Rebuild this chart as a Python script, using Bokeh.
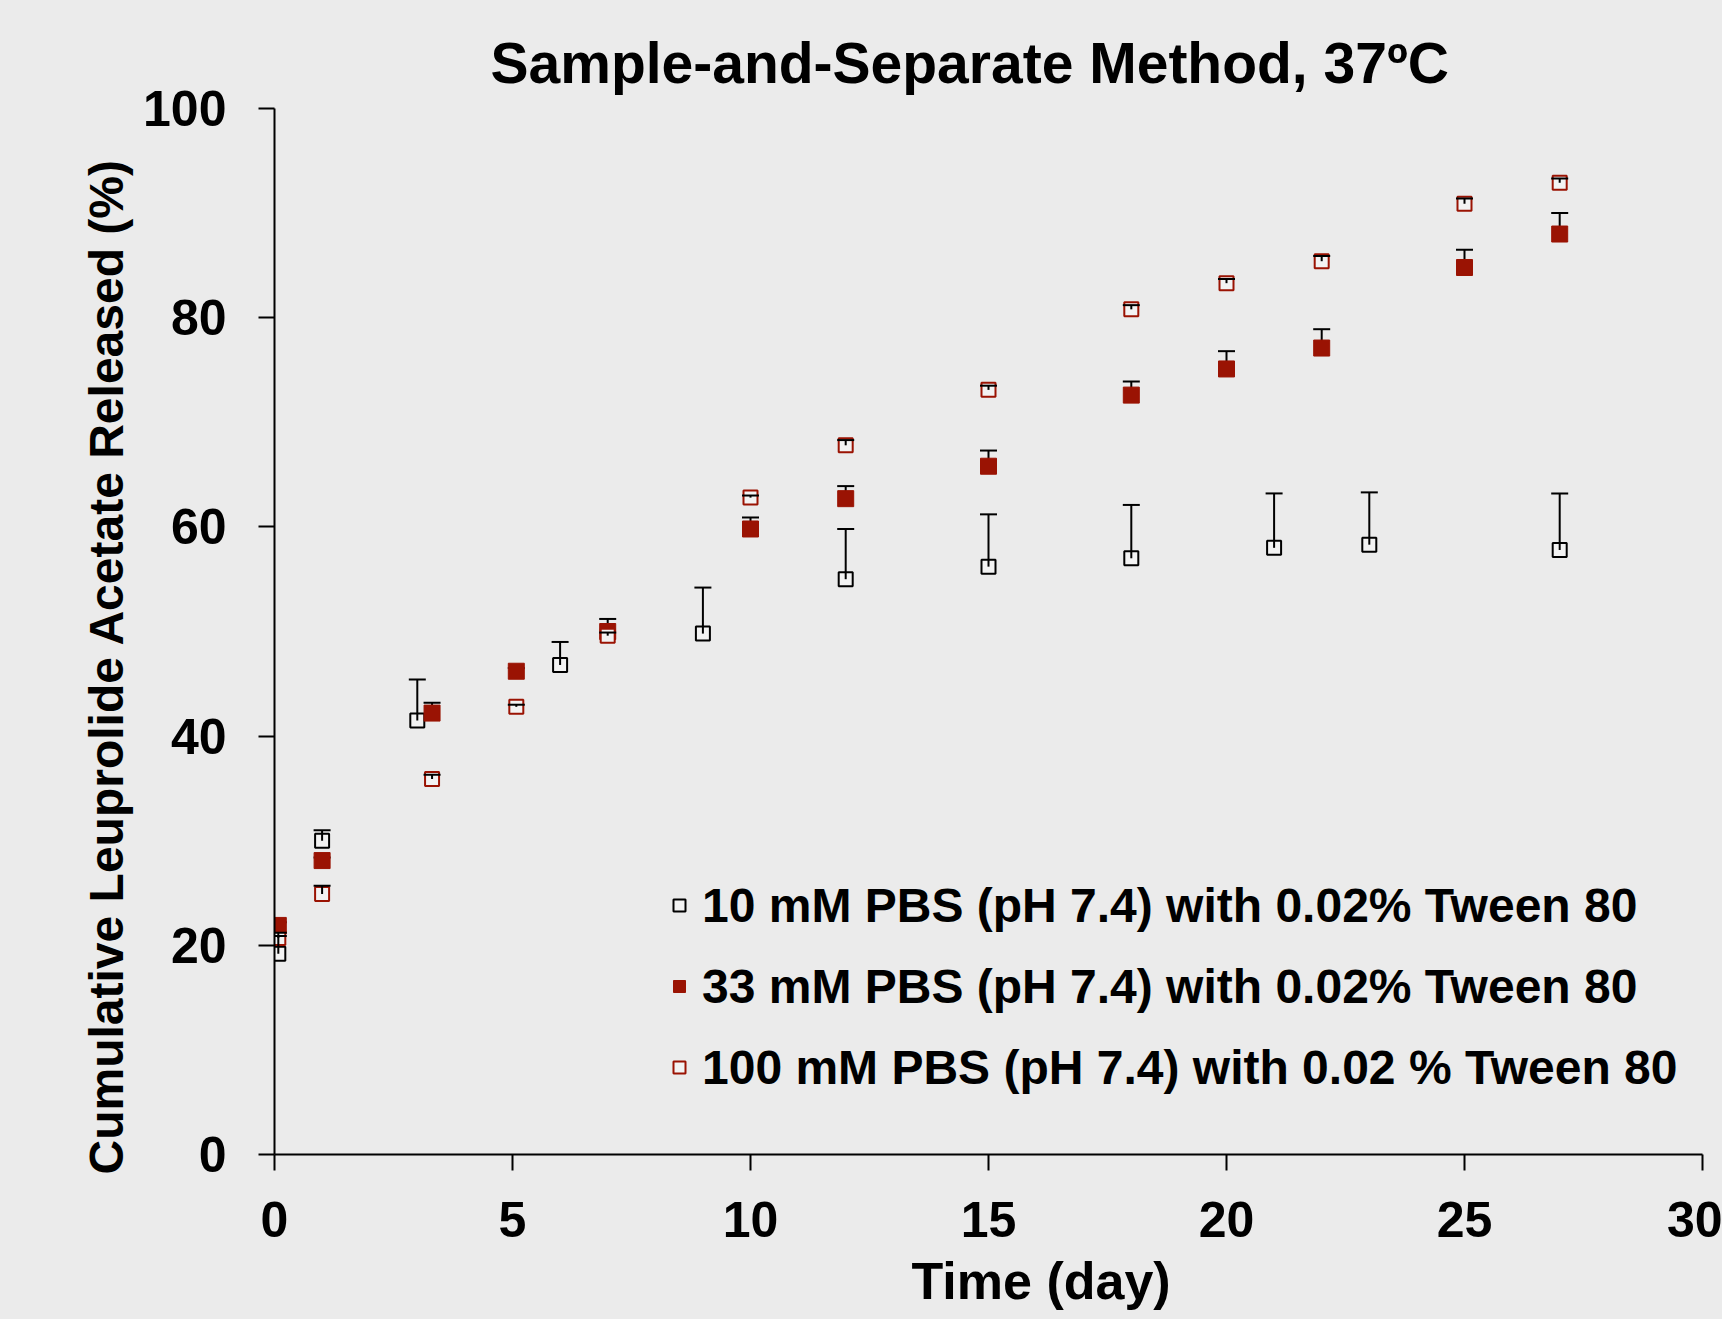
import math
from bokeh.plotting import figure
from bokeh.models import (Range1d, FixedTicker, Whisker, TeeHead, ColumnDataSource,
                          Legend, LegendItem, Title)
from bokeh.embed import file_html
from bokeh.resources import INLINE

# ---------------- data ----------------
title_text = "Sample-and-Separate Method, 37ºC"
x_label = "Time (day)"
y_label = "Cumulative Leuprolide Acetate Released (%)"
x_ticks = [0, 5, 10, 15, 20, 25, 30]
y_ticks = [0, 20, 40, 60, 80, 100]

names = ["10 mM PBS (pH 7.4) with 0.02% Tween 80",
         "33 mM PBS (pH 7.4) with 0.02% Tween 80",
         "100 mM PBS (pH 7.4) with 0.02 % Tween 80"]

t_10 = [0.08, 1, 3, 6, 9, 12, 15, 18, 21, 23, 27]
y_10 = [19.2, 30.0, 41.5, 46.8, 49.8, 55.0, 56.2, 57.0, 58.0, 58.3, 57.8]
e_10 = [1.7, 1.0, 3.9, 2.2, 4.4, 4.8, 5.0, 5.1, 5.2, 5.0, 5.4]

t_33 = [0.08, 1, 3.31, 5.08, 7, 10, 12, 15, 18, 20, 22, 25, 27]
y_33 = [21.9, 28.1, 42.2, 46.2, 50.0, 59.8, 62.7, 65.8, 72.6, 75.1, 77.1, 84.8, 88.0]
e_33 = [0.3, 0.3, 1.0, 0.3, 1.2, 1.1, 1.2, 1.5, 1.3, 1.7, 1.8, 1.7, 2.0]

t_100 = [0.08, 1, 3.31, 5.08, 7, 10, 12, 15, 18, 20, 22, 25, 27]
y_100 = [20.7, 24.9, 35.9, 42.8, 49.6, 62.8, 67.8, 73.1, 80.8, 83.3, 85.4, 90.9, 92.9]
e_100 = [0.5, 0.8, 0.4, 0.2, 0.3, 0.2, 0.5, 0.4, 0.4, 0.4, 0.5, 0.5, 0.4]

# ---------------- style ----------------
BG = "#EBEBEB"
RED = "#9A1303"
OPEN_FILL = "#F3F3F3"
FONT = "Liberation Sans"

p = figure(width=1722, height=1319, output_backend="svg", toolbar_location=None,
           x_range=Range1d(0, 30), y_range=Range1d(0, 100),
           min_border_left=274, min_border_right=20,
           min_border_top=108, min_border_bottom=163)
p.background_fill_color = BG
p.border_fill_color = BG
p.outline_line_color = None
p.grid.visible = False

try:
    from bokeh.models import GlobalInlineStyleSheet
    p.stylesheets = [GlobalInlineStyleSheet(
        css="html, body { background-color: #EBEBEB; margin: 0; padding: 0; overflow: hidden; }")]
except Exception:
    pass

# title
p.title.text = title_text
p.title.text_font = FONT
p.title.text_font_size = "57px"
p.title.text_font_style = "bold"
p.title.text_color = "black"
p.title.align = "left"
p.title.offset = 216
try:
    p.title.standoff = 28
except Exception:
    pass

# axes
for ax in (p.xaxis[0], p.yaxis[0]):
    ax.axis_line_width = 2
    ax.axis_line_color = "black"
    ax.major_tick_line_width = 2
    ax.major_tick_line_color = "black"
    ax.major_tick_out = 16
    ax.major_tick_in = 0
    ax.minor_tick_line_color = None
    ax.major_label_text_font = FONT
    ax.major_label_text_font_size = "50px"
    ax.major_label_text_font_style = "bold"
    ax.major_label_text_color = "black"

p.xaxis.ticker = FixedTicker(ticks=x_ticks)
p.yaxis.ticker = FixedTicker(ticks=y_ticks)
p.xaxis.major_label_standoff = 31
p.yaxis.major_label_standoff = 32

# axis titles, placed in the side panels
ytitle = Title(text=y_label, align="left", offset=-20, standoff=16,
               text_font=FONT, text_font_size="48px", text_font_style="bold",
               text_color="black")
p.add_layout(ytitle, "left")
xtitle = Title(text=x_label, align="left", offset=637, standoff=20,
               text_font=FONT, text_font_size="52px", text_font_style="bold",
               text_color="black")
p.add_layout(xtitle, "below")

# sources
def src(t, y, e):
    return ColumnDataSource(dict(x=t, y=y, top=[a + b for a, b in zip(y, e)]))

s10 = src(t_10, y_10, e_10)
s33 = src(t_33, y_33, e_33)
s100 = src(t_100, y_100, e_100)

def whisk(s, level):
    return Whisker(source=s, base="x", lower="y", upper="top", dimension="height",
                   line_color="black", line_width=2, level=level,
                   upper_head=TeeHead(size=17, line_width=2, line_color="black"),
                   lower_head=None)

# 33 mM whiskers under markers
p.add_layout(whisk(s33, "underlay"))

r10 = p.scatter("x", "y", source=s10, marker="square", size=14,
                fill_color=OPEN_FILL, line_color="black", line_width=2)
r33 = p.scatter("x", "y", source=s33, marker="square", size=16,
                fill_color=RED, line_color=RED, line_width=1)
r100 = p.scatter("x", "y", source=s100, marker="square", size=14,
                 fill_color=OPEN_FILL, line_color=RED, line_width=2)

p.add_layout(whisk(s10, "annotation"))
p.add_layout(whisk(s100, "annotation"))

legend = Legend(items=[LegendItem(label=names[0], renderers=[r10]),
                       LegendItem(label=names[1], renderers=[r33]),
                       LegendItem(label=names[2], renderers=[r100])],
                location=(390, 59), orientation="vertical",
                label_text_font=FONT, label_text_font_size="48px",
                label_text_font_style="bold", label_text_color="black",
                glyph_width=30, glyph_height=30, label_height=56,
                spacing=25, padding=0, margin=0, label_standoff=8,
                border_line_alpha=0, background_fill_alpha=0)
p.add_layout(legend)

open("out.html", "w").write(file_html(p, INLINE))
